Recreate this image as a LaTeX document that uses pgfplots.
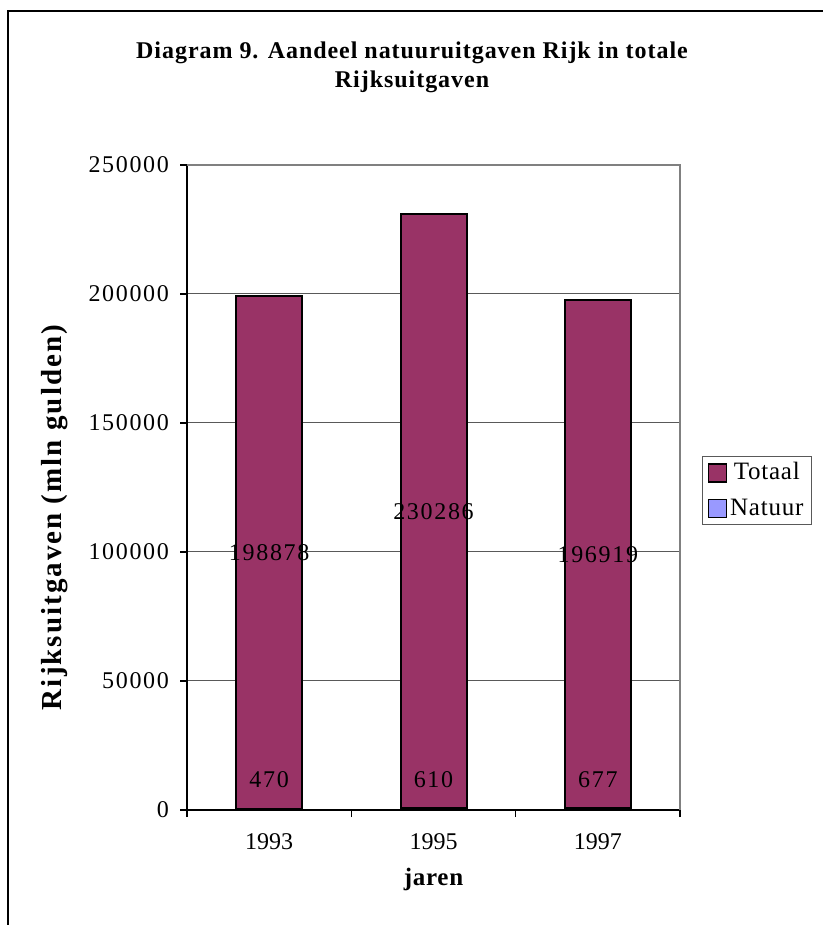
\documentclass[border=0pt]{standalone}
\usepackage{fontspec}
\setmainfont{Liberation Serif}
\newfontfamily\wide[LetterSpace=7]{Liberation Serif}
\newfontfamily\leg[LetterSpace=3]{Liberation Serif}
\newfontfamily\titlefont[LetterSpace=4]{Liberation Serif}
\newfontfamily\ylabfont[LetterSpace=7]{Liberation Serif}
\usepackage{pgfplots}
\pgfplotsset{compat=1.18}
\definecolor{totaal}{HTML}{993366}
\definecolor{natuur}{HTML}{9999FF}
\pgfplotsset{sqlegend/.style={legend image code/.code={\draw[##1,line width=0.8pt] (0pt,-4.5pt) rectangle (9pt,4.5pt);}}}
\begin{document}
\begin{tikzpicture}
\path[use as bounding box] (0,0) rectangle (411.5pt,462.5pt);
\draw[line width=1pt] (4pt,0) -- (4pt,457pt) -- (411.5pt,457pt);
\node[font=\titlefont\bfseries\fontsize{12}{12}\selectfont, anchor=base] at (206pt,433pt) {Diagram 9. Aandeel natuuruitgaven Rijk in totale};
\node[font=\titlefont\bfseries\fontsize{12}{12}\selectfont, anchor=base] at (206pt,418.5pt) {Rijksuitgaven};
\begin{axis}[
 at={(93.5pt,57.5pt)}, anchor=south west, scale only axis, width=246.5pt, height=322.5pt,
 ybar stacked, bar width=33pt,
 xmin=-0.5, xmax=2.5, ymin=0, ymax=250000, enlarge x limits=false, enlarge y limits=false,
 scaled y ticks=false,
 axis lines*=left, axis line style={line width=0.6pt, black, -},
 xtick={0,1,2}, xticklabels={1993,1995,1997}, major x tick style={draw=none},
 minor xtick={-0.5,0.5,1.5,2.5},
 ytick={0,50000,100000,150000,200000,250000}, yticklabels={0,50000,100000,150000,200000,250000},
 tick align=outside, tick style={black, line width=0.6pt}, major tick length=3.5pt, minor tick length=3.5pt,
 ymajorgrids, grid style={line width=0.5pt, gray!70!black},
 yticklabel style={font=\wide\fontsize{12}{12}\selectfont, xshift=-2pt},
 xticklabel style={font=\fontsize{12}{12}\selectfont, anchor=center, yshift=-12.5pt},
 xlabel={jaren}, xlabel style={font=\leg\bfseries\fontsize{12.5}{12.5}\selectfont, at={(axis description cs:0.5,-0.1085)}, anchor=center},
 ylabel={Rijksuitgaven (mln gulden)}, ylabel style={font=\ylabfont\bfseries\fontsize{14.5}{14.5}\selectfont, at={(axis description cs:-0.268,0.4535)}, anchor=center},
 reverse legend,
 legend style={at={(axis description cs:1.0446,0.442)}, anchor=south west, draw=gray!70!black, line width=0.6pt,
   font=\leg\fontsize{12.5}{12.5}\selectfont, inner xsep=2.5pt, inner ysep=2pt, row sep=6pt,
   nodes={inner xsep=1.5pt, inner ysep=1pt}},
]
\addplot[fill=natuur, draw=black, line width=1pt, sqlegend] coordinates {(0,470) (1,610) (2,677)};
\addplot[fill=totaal, draw=black, line width=1pt, sqlegend] coordinates {(0,198878) (1,230286) (2,196919)};
\legend{Natuur\hspace{3pt},Totaal\hspace{3pt}}
\coordinate (tl) at (rel axis cs:0,1);
\coordinate (tr) at (rel axis cs:1,1);
\coordinate (br) at (rel axis cs:1,0);
\coordinate (a1) at (axis cs:0,99909);
\coordinate (a2) at (axis cs:1,115753);
\coordinate (a3) at (axis cs:2,99137);
\coordinate (b1) at (axis cs:0,11600);
\coordinate (b2) at (axis cs:1,11600);
\coordinate (b3) at (axis cs:2,11600);
\end{axis}
\draw[gray, line width=1pt] (tl) -- (tr) -- (br);
\begin{scope}[every node/.style={font=\wide\fontsize{12}{12}\selectfont}]
\node at (a1) {198878};
\node at (a2) {230286};
\node at (a3) {196919};
\node at (b1) {470};
\node at (b2) {610};
\node at (b3) {677};
\end{scope}
\end{tikzpicture}
\end{document}
